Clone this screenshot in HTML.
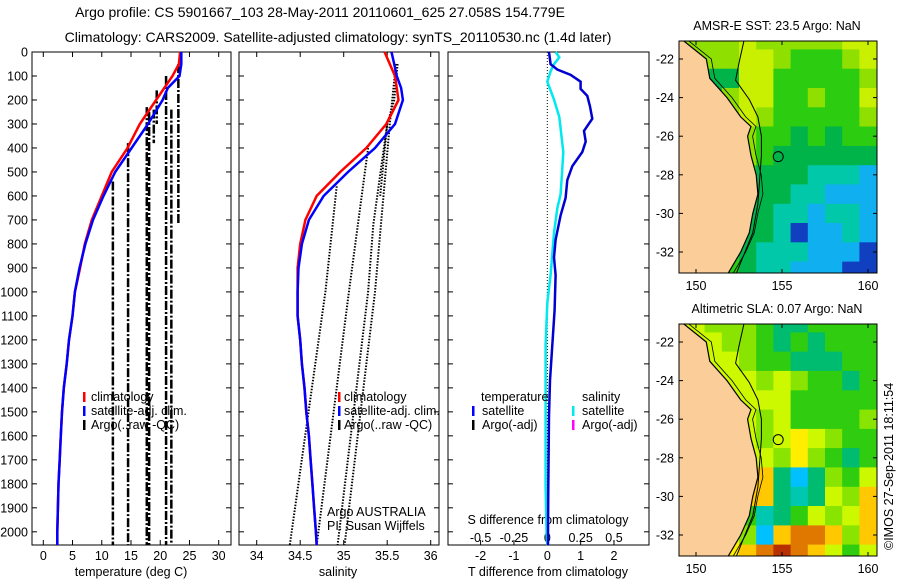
<!DOCTYPE html>
<html><head><meta charset="utf-8"><style>
body{margin:0;background:#fff;}
svg{display:block;font-family:"Liberation Sans",sans-serif;}
text{font-size:12.5px;fill:#000;}
</style></head><body>
<svg id="fig" width="900" height="580" viewBox="0 0 900 580" xmlns="http://www.w3.org/2000/svg">
<text x="320" y="17" text-anchor="middle" style="font-size:14px">Argo profile: CS 5901667_103 28-May-2011 20110601_625 27.058S 154.779E</text>
<text x="338" y="42" text-anchor="middle" style="font-size:14px">Climatology: CARS2009. Satellite-adjusted climatology: synTS_20110530.nc (1.4d later)</text>
<g id="g1"></g>
<g id="g2"></g>
<g id="g3"></g>
<g id="m1"></g>
<g id="m2"></g>
<text transform="translate(893,550) rotate(-90)">©IMOS 27-Sep-2011 18:11:54</text>
</svg>
<script>
// ---------- data ----------
const depthTicks=[0,100,200,300,400,500,600,700,800,900,1000,1100,1200,1300,1400,1500,1600,1700,1800,1900,2000];
const tempTicks=[0,5,10,15,20,25,30];
const salTicks=[34,34.5,35,35.5,36];
const tdTicks=[-2,-1,0,1,2];
const sdTicks=[-0.5,-0.25,0,0.25,0.5];
const sdTickLabels=["-0.5","-0.25","0","0.25","0.5"];
const climDepth=[0,50,100,200,300,400,500,600,700,800,900,1000,1100,1200,1300,1400,1500,1600,1700,1800,1900,2000,2055];
const climTemp=[23.4,23.2,22.1,19.3,16.5,14.4,11.7,10.0,8.3,7.1,6.3,5.4,5.0,4.4,4.0,3.5,3.2,3.0,2.8,2.6,2.5,2.4,2.4];
const satDepth=[0,50,100,150,200,300,400,500,600,700,800,900,1000,1100,1200,1300,1400,1500,1600,1700,1800,1900,2000,2055];
const satTemp=[23.6,23.6,23.3,21.3,20.4,17.9,15.1,12.3,10.3,8.5,7.2,6.2,5.4,5.0,4.4,4.0,3.5,3.2,3.0,2.8,2.6,2.5,2.4,2.4];
const climSal=[35.47,35.53,35.59,35.63,35.49,35.26,34.96,34.69,34.56,34.50,34.47,34.47,34.47,34.50,34.52,34.55,34.57,34.60,34.62,34.64,34.66,34.68,34.69];
const satSal=[35.55,35.58,35.61,35.66,35.68,35.59,35.36,35.05,34.77,34.60,34.52,34.48,34.47,34.47,34.50,34.52,34.55,34.57,34.60,34.62,34.64,34.66,34.68,34.69];
const argoTemp=[11.9,14.5,17.7,18.1,18.9,19.4,21.0,21.9,23.1];
const argoTempTop=[540,380,230,250,240,160,100,240,50];
const argoTempBot=[2055,2055,2055,2055,380,300,2055,2055,720];
const argoSalLines=[
 {d:[560,1000,2055],s:[34.92,34.79,34.38]},
 {d:[400,1000,2055],s:[35.28,35.06,34.69]},
 {d:[300,720,1000,2055],s:[35.5,35.34,35.28,34.93]},
 {d:[50,300,1000,2055],s:[35.6,35.53,35.36,35.01]},
 {d:[50,200,300,600],s:[35.62,35.58,35.5,35.42]}];
const tdDepth=[0,51,73,95,124,154,183,227,278,329,373,417,476,534,608,681,783,856,930,1076,1222,1369,1515,1808,2013,2055];
const tdVal=[0.05,0.1,0.3,0.7,1.0,1.0,1.2,1.28,1.35,1.1,1.15,1.05,0.75,0.6,0.55,0.4,0.25,0.2,0.25,0.22,0.15,0.08,0.05,0.03,0.02,0.02];
const sdDepth=[0,22,51,80,124,198,271,344,417,505,593,652,754,929,1046,1222,1515,1808,2013,2055];
const sdVal=[0.0625,0.09,0.05,0.025,0,0.05,0.09,0.105,0.12,0.11,0.1,0.075,0.05,0.025,0,-0.0125,-0.0125,-0.0125,-0.005,0];
// map grids (rows lat -21..-33, cols lon 149..160)
const sstRows=["LLLLYLLLLLYY","LLLLYYLGGGLY","LLDDYYGGGGGL","LDDLYYGGLGGY","DDDLYLGGGGGL","DDDGLGGDGDGG","DDDGLGDDDDDD","DDDGGDDDCCCB","DDDGGDDCCBBB","DDDGDDCCBCCB","DDDGDDCNBBCB","DDDGDCCCBBBN","DDDGDCCBBBNN"];
const sstPal={Y:"#c8f000",L:"#8fe000",G:"#2ccc10",D:"#00b44a",C:"#00c8a8",B:"#10b0f0",N:"#1040c0"};
const slaRows=["YYLLLGTTGGGG","YYYLLGTGTGGG","YYYYLGGTTTGG","YYYYYLYLGGTG","YYYYYYYGGGGG","YYYWYLYGGGGL","YYYWYLYWYLGG","YYYWYYLWLGTG","YYYWYOTBTLGY","YYYWOOTCTYLO","YYYWGCTGYLYO","YYYWLBORROLO","YYYWORKROYGY"];
const slaPal={Y:"#ccf800",W:"#ffee00",O:"#ffc800",R:"#e07800",K:"#b83000",G:"#30cc10",L:"#88e400",T:"#00bc70",C:"#00c8b0",B:"#00c0ff"};
const coastLat=[-21,-22,-23,-24,-25,-25.5,-26,-27,-28,-29,-30,-31,-32,-33.2];
const coastLon=[149.2,150.6,150.8,151.8,152.6,153.2,153.0,153.2,153.5,153.6,153.3,153.1,152.6,151.8];
const contLat=[-21,-22.2,-23.1,-24.1,-25,-26,-27,-29.5,-31,-33.2];
const contLon=[152.8,152.5,152.3,153.1,153.6,153.8,153.8,153.6,153.3,152.3];
const latTicks=[-22,-24,-26,-28,-30,-32];
const lonTicks=[150,155,160];

// ---------- helpers ----------
const NS="http://www.w3.org/2000/svg";
function el(parent,tag,attrs){const e=document.createElementNS(NS,tag);for(const k in attrs)e.setAttribute(k,attrs[k]);parent.appendChild(e);return e;}
function txt(parent,x,y,s,anchor){const t=el(parent,'text',{x:x,y:y,'text-anchor':anchor||'start'});t.textContent=s;return t;}
const PT=52,PB=545,DMAX=2055;
const yD=d=>PT+d/DMAX*(PB-PT);
function lin(d0,d1,r0,r1){return v=>r0+(v-d0)/(d1-d0)*(r1-r0);}
function frame(g,L,R,name){
  const r=el(g,'rect',{x:L,y:PT,width:R-L,height:PB-PT,fill:'none',stroke:'#000','stroke-width':1});
  
  
  depthTicks.forEach(d=>{const y=yD(d);el(g,'line',{x1:L,x2:L+5,y1:y,y2:y,stroke:'#000'});el(g,'line',{x1:R,x2:R-5,y1:y,y2:y,stroke:'#000'});});
}
function path(g,xs,ys,color,w,dash,name){
  let d='';for(let i=0;i<xs.length;i++)d+=(i?'L':'M')+xs[i].toFixed(1)+','+ys[i].toFixed(1);
  const p=el(g,'path',{d:d,fill:'none',stroke:color,'stroke-width':w});
  if(dash)p.setAttribute('stroke-dasharray',dash);
  
  
  return p;
}
function legendMark(g,x,y,color){el(g,'rect',{x:x,y:y-10,width:2.5,height:10,fill:color});}

// ---------- panel 1 : temperature ----------
const g1=document.getElementById('g1');
const xT=lin(0,30,43.3,218.7);
frame(g1,32,231,'temperature-axes');
depthTicks.forEach(d=>{const t=txt(g1,28,yD(d)+4.5,String(d),'end');});
tempTicks.forEach(v=>{const x=xT(v);el(g1,'line',{x1:x,x2:x,y1:PB,y2:PB-5,stroke:'#000'});el(g1,'line',{x1:x,x2:x,y1:PT,y2:PT+5,stroke:'#000'});txt(g1,x,560,String(v),'middle');});
txt(g1,131,576,'temperature (deg C)','middle');
argoTemp.forEach((v,i)=>{const x=xT(v);const l=el(g1,'line',{x1:x,x2:x,y1:yD(argoTempTop[i]),y2:yD(argoTempBot[i]),stroke:'#000','stroke-width':2.5,'stroke-dasharray':'9,2,2,2'});
 
 });
path(g1,climTemp.map(xT),climDepth.map(yD),'#ff0000',2.5,null,'climatology-temperature-line');
path(g1,satTemp.map(xT),satDepth.map(yD),'#0000ff',2.5,null,'satellite-temperature-line');
legendMark(g1,83,402,'#ff0000');legendMark(g1,83,416,'#0000ff');legendMark(g1,83,430,'#000');
txt(g1,91,401,'climatology');txt(g1,91,415,'satellite-adj. clim.');txt(g1,91,429,'Argo(..raw -QC)');

// ---------- panel 2 : salinity ----------
const g2=document.getElementById('g2');
const xS=lin(34,36,256.7,430.7);
frame(g2,239,439,'salinity-axes');
salTicks.forEach(v=>{const x=xS(v);el(g2,'line',{x1:x,x2:x,y1:PB,y2:PB-5,stroke:'#000'});el(g2,'line',{x1:x,x2:x,y1:PT,y2:PT+5,stroke:'#000'});txt(g2,x,560,String(v),'middle');});
txt(g2,338,576,'salinity','middle');
argoSalLines.forEach(o=>path(g2,o.s.map(xS),o.d.map(yD),'#000',2,'1.5,1.5','argo-salinity-profile'));
path(g2,climSal.map(xS),climDepth.map(yD),'#ff0000',2.5,null,'climatology-salinity-line');
path(g2,satSal.map(xS),satDepth.map(yD),'#0000ff',2.5,null,'satellite-salinity-line');
legendMark(g2,338,402,'#ff0000');legendMark(g2,338,416,'#0000ff');legendMark(g2,338,430,'#000');
txt(g2,344,401,'climatology');txt(g2,344,415,'satellite-adj. clim.');txt(g2,344,429,'Argo(..raw -QC)');
txt(g2,327,516,'Argo AUSTRALIA');txt(g2,327,530,'PI: Susan Wijffels');

// ---------- panel 3 : differences ----------
const g3=document.getElementById('g3');
const xD=lin(0,2,547.3,614);
const xSD=v=>xD(v*4);
frame(g3,448,649,'difference-axes');
tdTicks.forEach(v=>{const x=xD(v);el(g3,'line',{x1:x,x2:x,y1:PB,y2:PB-5,stroke:'#000'});txt(g3,x,560,String(v),'middle');});
sdTicks.forEach((v,i)=>{txt(g3,xSD(v),542,sdTickLabels[i],'middle');});
txt(g3,548,524,'S difference from climatology','middle');
txt(g3,548,576,'T difference from climatology','middle');
el(g3,'line',{x1:xD(0),x2:xD(0),y1:PT,y2:PB,stroke:'#000','stroke-dasharray':'1,2'});
path(g3,sdVal.map(xSD),sdDepth.map(yD),'#00e8f0',2.5,null,'salinity-difference-line');
path(g3,tdVal.map(xD),tdDepth.map(yD),'#0000d0',2.5,null,'temperature-difference-line');
txt(g3,481,401,'temperature');txt(g3,582,401,'salinity');
legendMark(g3,472,416,'#0000ff');legendMark(g3,472,430,'#000');legendMark(g3,572,416,'#00e8f0');legendMark(g3,572,430,'#ff00ff');
txt(g3,482,415,'satellite');txt(g3,482,429,'Argo(-adj)');txt(g3,582,415,'satellite');txt(g3,582,429,'Argo(-adj)');

// ---------- maps ----------
function drawMap(g,top,rows,pal,title){
  const L=679,R=877,B=top+232;
  const xL=lin(150,160,696,868);
  const yL=lin(-22,-32,top+18,top+211);
  const clip='clip'+top;
  const cp=el(g,'clipPath',{id:clip});el(cp,'rect',{x:L,y:top,width:R-L,height:B-top});
  const cg=el(g,'g',{'clip-path':'url(#'+clip+')'});
  rows.forEach((row,ri)=>{for(let ci=0;ci<row.length;ci++){
    const lon=149+ci,lat=-21-ri;
    const x0=xL(lon-0.5),x1=xL(lon+0.5),y0=yL(lat+0.5),y1=yL(lat-0.5);
    const c=el(cg,'rect',{x:x0.toFixed(1),y:y0.toFixed(1),width:(x1-x0+0.6).toFixed(1),height:(y1-y0+0.6).toFixed(1),fill:pal[row[ci]]});
    
    
  }});
  let d='M'+(L-5)+','+(top-5);
  coastLat.forEach((la,i)=>{d+='L'+xL(coastLon[i]).toFixed(1)+','+yL(la).toFixed(1);});
  d+='L'+(L-5)+','+(B+5)+'Z';
  const land=el(cg,'path',{d:d,fill:'#fbcd98',stroke:'#000','stroke-width':1.2});
  
  
  let c2='';contLat.forEach((la,i)=>{c2+=(i?'L':'M')+xL(contLon[i]).toFixed(1)+','+yL(la).toFixed(1);});
  el(cg,'path',{d:c2,fill:'none',stroke:'#000','stroke-width':1});
  let c3='';coastLat.forEach((la,i)=>{c3+=(i?'L':'M')+(xL(coastLon[i])+5).toFixed(1)+','+yL(la).toFixed(1);});
  el(cg,'path',{d:c3,fill:'none',stroke:'#000','stroke-width':0.8});
  const circ=el(cg,'circle',{cx:xL(154.78),cy:yL(-27.06),r:5,fill:'none',stroke:'#000'});
  
  
  el(g,'rect',{x:L,y:top,width:R-L,height:B-top,fill:'none',stroke:'#000'});
  latTicks.forEach(v=>{const y=yL(v);el(g,'line',{x1:L,x2:L+4,y1:y,y2:y,stroke:'#000'});el(g,'line',{x1:R,x2:R-4,y1:y,y2:y,stroke:'#000'});txt(g,674,y+4.5,String(v),'end');});
  lonTicks.forEach(v=>{const x=xL(v);el(g,'line',{x1:x,x2:x,y1:B,y2:B-4,stroke:'#000'});el(g,'line',{x1:x,x2:x,y1:top,y2:top+4,stroke:'#000'});txt(g,x,B+17,String(v),'middle');});
  const t=txt(g,777,top-11,title,'middle');
  
  
}
drawMap(document.getElementById('m1'),41,sstRows,sstPal,'AMSR-E SST: 23.5 Argo: NaN');
drawMap(document.getElementById('m2'),324,slaRows,slaPal,'Altimetric SLA: 0.07 Argo: NaN');
</script>
</body></html>
